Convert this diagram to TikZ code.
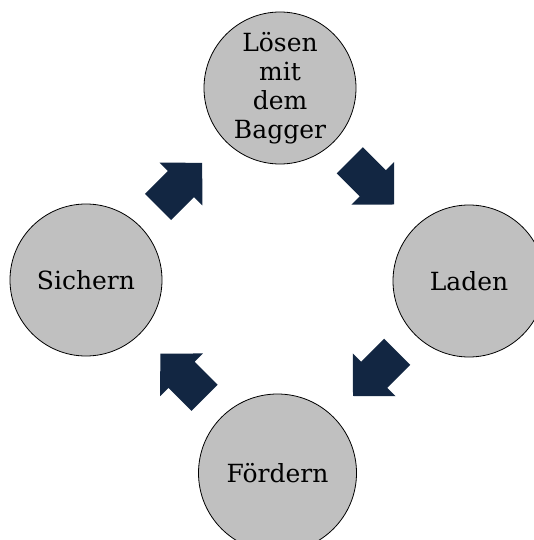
\documentclass[tikz,border=0pt]{standalone}
\usepackage{fontspec}
\setmainfont{DejaVu Serif}
\definecolor{navy}{RGB}{18,38,66}
\definecolor{cgray}{RGB}{192,192,192}
\begin{document}
\begin{tikzpicture}[x=1pt,y=-1pt,
  stage/.style={circle,draw=black,line width=0.8pt,fill=cgray,inner sep=0pt,
    minimum size=152pt,font=\fontsize{25}{29}\selectfont,align=center},
  blockarr/.pic={\fill[navy] (0,-18.5)--(32.5,-18.5)--(32.5,-30.2)--(62.5,0)
      --(32.5,30.2)--(32.5,18.5)--(0,18.5)--cycle;}]
\useasboundingbox (0,0) rectangle (534,540);
\node[stage] (loesen) at (280,88) {Lösen\\mit\\dem\\Bagger};
\node[stage] (laden) at (469,281) {Laden};
\node[stage,minimum size=158pt] (foerdern) at (277.5,473) {Fördern};
\node[stage] (sichern) at (86,280) {Sichern};
\pic (a1) [rotate=45] at (158,207) {blockarr};
\pic (a2) [rotate=-45] at (349.8,160.3) {blockarr};
\pic (a3) [rotate=-135] at (397.2,351.8) {blockarr};
\pic (a4) [rotate=135] at (204.5,397.8) {blockarr};
\end{tikzpicture}
\end{document}
